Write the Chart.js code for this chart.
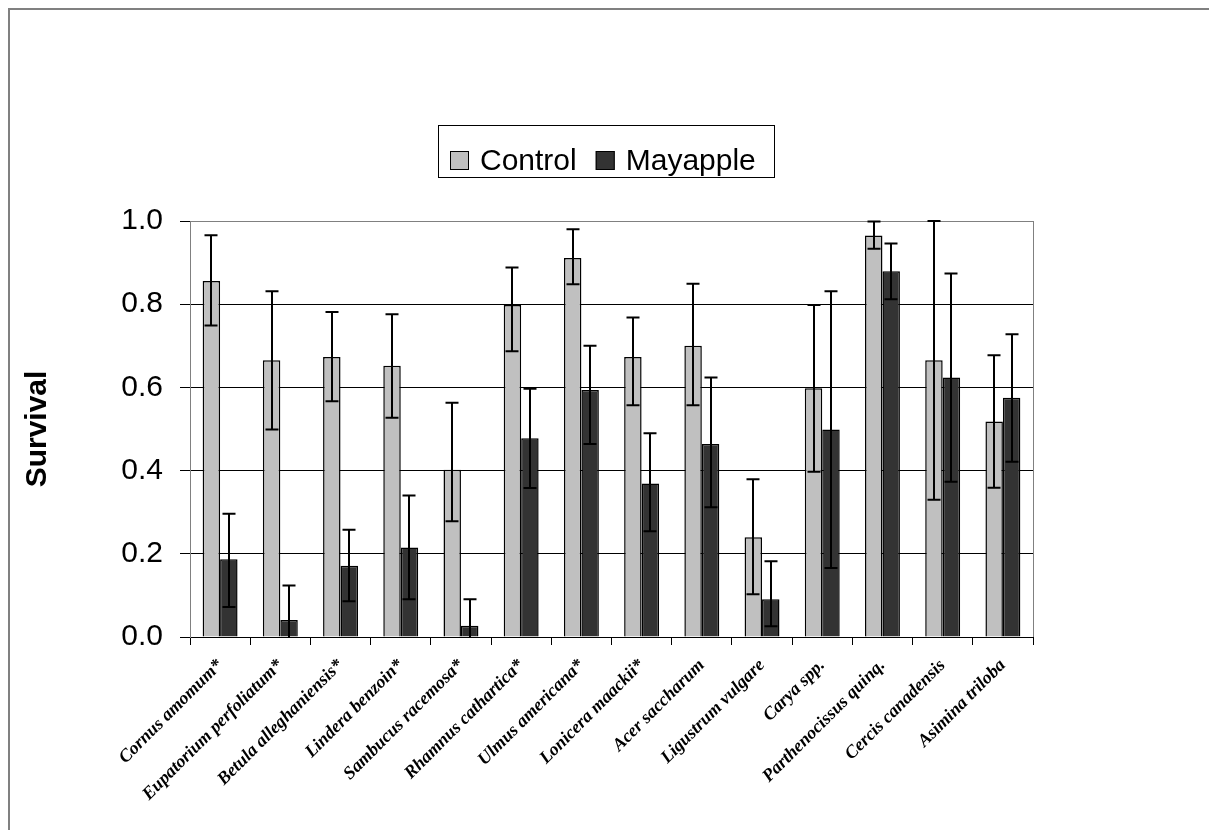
<!DOCTYPE html>
<html>
<head>
<meta charset="utf-8">
<title>Seedling survival</title>
<script src="https://cdn.jsdelivr.net/npm/chart.js@4.4.1/dist/chart.umd.min.js"></script>
<style>
  html, body { margin: 0; padding: 0; background: #fff; }
  #wrap { position: relative; width: 1209px; height: 830px; overflow: hidden; }
  #frame {
    position: absolute; left: 8px; top: 8px; width: 1400px; height: 1000px;
    border-left: 2px solid #808080; border-top: 2px solid #808080;
  }
  #survivalChart { position: absolute; left: 0; top: 0; }
</style>
</head>
<body>
<div id="wrap">
  <div id="frame"></div>
  <canvas id="survivalChart" width="1209" height="830"></canvas>
</div>
<script>
/* ================= DATA ================= */
const species = [
  "Cornus amomum*", "Eupatorium perfoliatum*", "Betula alleghaniensis*",
  "Lindera benzoin*", "Sambucus racemosa*", "Rhamnus cathartica*",
  "Ulmus americana*", "Lonicera maackii*", "Acer saccharum",
  "Ligustrum vulgare", "Carya spp.", "Parthenocissus quinq.",
  "Cercis canadensis", "Asimina triloba",
];

const controlSurvival = [0.856, 0.665, 0.673, 0.652, 0.402, 0.798, 0.911, 0.673, 0.700, 0.240, 0.598, 0.965, 0.665, 0.518];
const controlErrUp    = [0.110, 0.166, 0.108, 0.124, 0.161, 0.090, 0.069, 0.095, 0.149, 0.139, 0.200, 0.034, 0.335, 0.159];
const controlErrDown  = [0.107, 0.166, 0.106, 0.125, 0.124, 0.111, 0.063, 0.116, 0.143, 0.137, 0.201, 0.032, 0.335, 0.159];

const mayappleSurvival = [0.187, 0.041, 0.171, 0.215, 0.027, 0.478, 0.594, 0.369, 0.464, 0.091, 0.499, 0.879, 0.624, 0.575];
const mayappleErrUp    = [0.109, 0.083, 0.087, 0.125, 0.064, 0.119, 0.106, 0.121, 0.160, 0.091, 0.332, 0.067, 0.250, 0.153];
const mayappleErrDown  = [0.115, 0.083, 0.085, 0.124, 0.064, 0.120, 0.130, 0.115, 0.152, 0.065, 0.333, 0.067, 0.251, 0.154];

const yTickLabels = ["0.0", "0.2", "0.4", "0.6", "0.8", "1.0"];

/* ================= PLUGINS ================= */
// vertical error bars with caps, clipped to the plot area
const errorBars = {
  id: "errorBars",
  afterDatasetsDraw(chart) {
    const { ctx, chartArea, scales } = chart;
    const y = scales.y;
    ctx.save();
    ctx.beginPath();
    ctx.rect(chartArea.left, chartArea.top - 2, chartArea.width, chartArea.height + 2);
    ctx.clip();
    ctx.strokeStyle = "#000";
    ctx.lineWidth = 2;
    chart.data.datasets.forEach((ds, i) => {
      chart.getDatasetMeta(i).data.forEach((bar, j) => {
        const hi = y.getPixelForValue(ds.data[j] + ds.errUp[j]);
        const lo = y.getPixelForValue(ds.data[j] - ds.errDown[j]);
        const x = Math.round(bar.x);
        ctx.beginPath();
        ctx.moveTo(x, hi);
        ctx.lineTo(x, lo);
        ctx.moveTo(x - 6.5, hi);
        ctx.lineTo(x + 6.5, hi);
        ctx.moveTo(x - 6.5, lo);
        ctx.lineTo(x + 6.5, lo);
        ctx.stroke();
      });
    });
    ctx.restore();
  },
};

// right border of the plot area + boxed legend
const frameAndLegend = {
  id: "frameAndLegend",
  afterDraw(chart) {
    const { ctx, chartArea } = chart;
    ctx.save();
    ctx.strokeStyle = "#808080";
    ctx.lineWidth = 1;
    ctx.beginPath();
    ctx.moveTo(chartArea.right + 0.5, chartArea.top);
    ctx.lineTo(chartArea.right + 0.5, chartArea.bottom);
    ctx.stroke();

    // legend
    ctx.font = "30px Arial, 'Liberation Sans'";
    ctx.textBaseline = "alphabetic";
    ctx.fillStyle = "#fff";
    ctx.strokeStyle = "#000";
    ctx.fillRect(438, 125, 336, 52);
    ctx.strokeRect(438.5, 125.5, 336, 52);
    let x = 450;
    chart.data.datasets.forEach((ds) => {
      ctx.fillStyle = ds.backgroundColor;
      ctx.fillRect(x, 151, 19, 19);
      ctx.strokeStyle = "#000";
      ctx.strokeRect(x + 0.5, 151.5, 18, 18);
      ctx.fillStyle = "#000";
      ctx.fillText(ds.label, x + 30, 170);
      x += 30 + ctx.measureText(ds.label).width + 19;
    });
    ctx.restore();
  },
};

/* ================= CHART ================= */
new Chart(document.getElementById("survivalChart"), {
  type: "bar",
  data: {
    labels: species,
    datasets: [
      {
        label: "Control",
        data: controlSurvival,
        errUp: controlErrUp,
        errDown: controlErrDown,
        backgroundColor: "#c0c0c0",
        borderColor: "#000",
        borderWidth: 1.5,
      },
      {
        label: "Mayapple",
        data: mayappleSurvival,
        errUp: mayappleErrUp,
        errDown: mayappleErrDown,
        backgroundColor: "#333333",
        borderColor: "#000",
        borderWidth: 1.5,
      },
    ],
  },
  options: {
    responsive: false,
    animation: false,
    layout: { padding: { top: 221, left: 10, right: 176, bottom: 0 } },
    categoryPercentage: 0.58,
    barPercentage: 1.0,
    plugins: {
      legend: { display: false },
      tooltip: { enabled: false },
    },
    scales: {
      x: {
        offset: true,
        grid: {
          offset: true,
          drawOnChartArea: false,
          drawTicks: true,
          tickLength: 8,
          color: "#000",
        },
        border: { color: "#000", width: 1 },
        ticks: {
          autoSkip: false,
          maxRotation: 45,
          minRotation: 45,
          padding: 10,
          color: "#000",
          font: { family: "'Liberation Serif', 'Times New Roman', serif", size: 18, style: "italic", weight: "bold" },
        },
        afterFit: (scale) => { scale.height = 193; },
      },
      y: {
        min: 0,
        max: 1,
        ticks: {
          stepSize: 0.2,
          padding: 17,
          color: "#000",
          font: { family: "Arial, 'Liberation Sans'", size: 30 },
          callback: (v, i) => yTickLabels[i],
        },
        grid: {
          color: (c) => (c.tick && c.tick.value >= 1 ? "#808080" : "#000"),
          tickColor: "#000",
          tickLength: 10,
          lineWidth: 1,
        },
        border: { color: "#808080", width: 1 },
        title: {
          display: true,
          text: "Survival",
          color: "#000",
          font: { family: "Arial, 'Liberation Sans'", size: 30, weight: "bold" },
          padding: { top: 10, bottom: 0 },
        },
        afterFit: (scale) => { scale.width = 180; },
      },
    },
  },
  plugins: [errorBars, frameAndLegend],
});
</script>
</body>
</html>
